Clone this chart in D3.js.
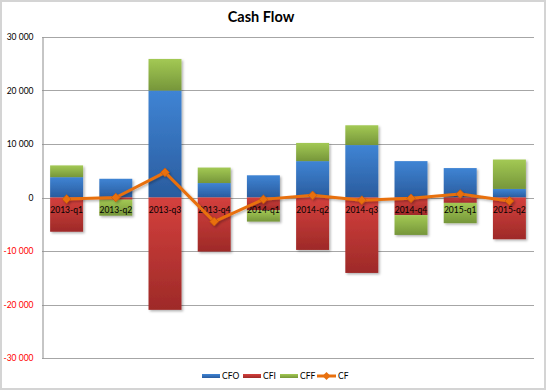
<!DOCTYPE html>
<html><head><meta charset="utf-8">
<script src="https://cdn.jsdelivr.net/npm/d3@7"></script>
<style>body{margin:0;background:#fff}svg{display:block}</style>
</head><body><svg id="c" width="546" height="390"></svg>
<script>
const categories = ["2013-q1","2013-q2","2013-q3","2013-q4","2014-q1","2014-q2","2014-q3","2014-q4","2015-q1","2015-q2"];
const CFO = [3800, 3500, 20000, 2700, 4150, 6800, 9800, 6800, 5500, 1600];
const CFI = [-6400, -400, -21000, -10100, -2400, -9800, -14100, -3300, -1000, -7800];
const CFF = [2200, -3000, 5900, 2900, -2100, 3400, 3700, -3700, -3800, 5500];
const CF  = [-300, 0, 4700, -4500, -350, 400, -500, -150, 650, -650];
const yTicks = [-30000,-20000,-10000,0,10000,20000,30000];
const seriesNames = ["CFO","CFI","CFF"];
const colors = {CFO:["#3f84d4","#2a5c9e"], CFI:["#d4403d","#9e2a28"], CFF:["#a3c954","#76963a"]};

const svg = d3.select("#c");
const W=546,H=390;
svg.append("rect").attr("x",1).attr("y",1).attr("width",W-2).attr("height",H-2)
  .attr("fill","#fff").attr("stroke","#d4d4d4").attr("stroke-width",2);

const defs = svg.append("defs");
seriesNames.forEach(s=>{
  const g = defs.append("linearGradient").attr("id","g"+s).attr("x1",0).attr("y1",0).attr("x2",0).attr("y2",1);
  g.append("stop").attr("offset","0%").attr("stop-color",colors[s][0]);
  g.append("stop").attr("offset","100%").attr("stop-color",colors[s][1]);
});
const f = defs.append("filter").attr("id","sh").attr("x","-20%").attr("y","-20%").attr("width","150%").attr("height","150%");
f.append("feDropShadow").attr("dx",1.5).attr("dy",1.5).attr("stdDeviation",1).attr("flood-color","#000").attr("flood-opacity",0.3);

const x = d3.scaleBand().domain(categories).range([42,534]).paddingInner(0.33).paddingOuter(0.165);
const y = d3.scaleLinear().domain([-30000,30000]).range([358,37]);

// title
svg.append("text").attr("x",261).attr("y",22).attr("text-anchor","middle")
  .attr("font-family","Lato, 'Open Sans', sans-serif").attr("font-weight","bold").attr("font-size",14.5).text("Cash Flow");

// gridlines
svg.append("g").selectAll("line").data(yTicks).join("line")
  .attr("x1",42).attr("x2",534).attr("y1",d=>Math.round(y(d))+0.5).attr("y2",d=>Math.round(y(d))+0.5)
  .attr("stroke","#a6a6a6").attr("stroke-width",1);

// y axis
const ya = svg.append("g").attr("transform","translate(42.5,0)")
  .call(d3.axisLeft(y).tickValues(yTicks).tickSize(0).tickPadding(9)
    .tickFormat(d=>d3.format(",")(d).replace(/,/g," ").replace("−","-")));
ya.select(".domain").attr("stroke","#8c8c8c");
ya.selectAll("text").attr("font-family","Lato, sans-serif").attr("font-size",8.5)
  .attr("fill",d=>d<0?"#ff0000":"#000");

// stacked bars
const table = categories.map((c,i)=>({cat:c, CFO:CFO[i], CFI:CFI[i], CFF:CFF[i]}));
const stack = d3.stack().keys(seriesNames).offset(d3.stackOffsetDiverging)(table);
const bars = svg.append("g").attr("filter","url(#sh)");
stack.forEach(layer=>{
  bars.append("g").attr("fill","url(#g"+layer.key+")").selectAll("rect").data(layer).join("rect")
    .attr("x",d=>x(d.data.cat)).attr("width",x.bandwidth())
    .attr("y",d=>y(Math.max(d[0],d[1]))).attr("height",d=>Math.abs(y(d[0])-y(d[1])));
});

// category labels near zero
svg.append("g").selectAll("text").data(categories).join("text")
  .attr("x",d=>x(d)+x.bandwidth()/2).attr("y",y(0)+15).attr("text-anchor","middle")
  .attr("font-family","Lato, sans-serif").attr("font-size",8.5).attr("fill","#000").text(d=>d);

// CF line
const line = d3.line().x((d,i)=>x(categories[i])+x.bandwidth()/2).y(d=>y(d));
const lg = svg.append("g").attr("filter","url(#sh)");
lg.append("path").datum(CF).attr("d",line).attr("fill","none").attr("stroke","#e8700e").attr("stroke-width",3).attr("stroke-linejoin","round");
lg.selectAll("path.m").data(CF).join("path").attr("class","m")
  .attr("d",d3.symbol().type(d3.symbolDiamond2).size(48))
  .attr("transform",(d,i)=>`translate(${x(categories[i])+x.bandwidth()/2},${y(d)})`)
  .attr("fill","#e8700e").attr("stroke","#c85a08").attr("stroke-width",0.8);

// legend
const leg = svg.append("g").attr("font-family","Lato, sans-serif").attr("font-size",8.5);
const legItems = [{k:"CFO",x:202},{k:"CFI",x:243},{k:"CFF",x:280},{k:"CF",x:317}];
legItems.forEach(it=>{
  if(it.k==="CF"){
    leg.append("line").attr("x1",it.x).attr("x2",it.x+19).attr("y1",376).attr("y2",376).attr("stroke","#e8700e").attr("stroke-width",3);
    leg.append("path").attr("d",d3.symbol().type(d3.symbolDiamond2).size(40)).attr("transform",`translate(${it.x+9.5},376)`).attr("fill","#e8700e");
    leg.append("text").attr("x",it.x+21).attr("y",379).text(it.k);
  } else {
    leg.append("rect").attr("x",it.x).attr("y",374).attr("width",18).attr("height",4).attr("fill","url(#g"+it.k+")");
    leg.append("text").attr("x",it.x+20).attr("y",379).text(it.k);
  }
});
</script></body></html>
